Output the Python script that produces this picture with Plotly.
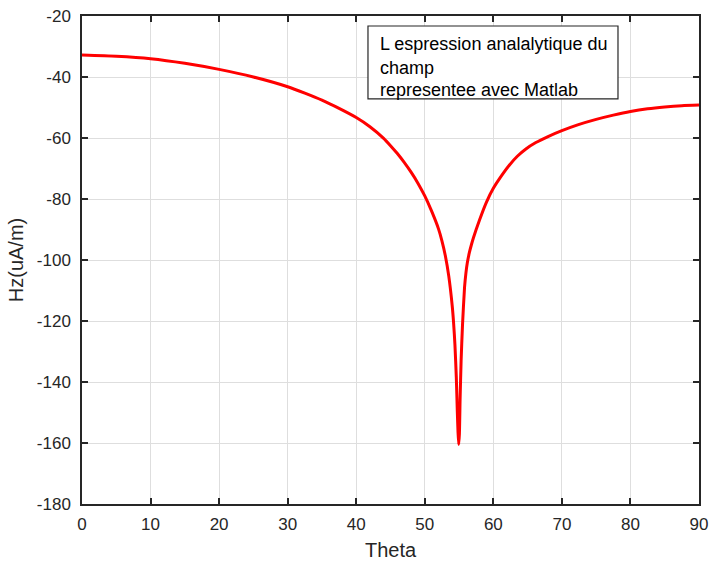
import plotly.graph_objects as go

theta = [0, 5, 10, 15, 20, 25, 30, 32.5, 35, 37.5, 40, 42, 44, 45, 46, 47, 48, 49, 50, 51,
         52, 52.5, 53, 53.5, 54, 54.2, 54.4, 54.6, 54.75, 54.85, 54.95, 55.05, 55.15,
         55.3, 55.5, 55.8, 56.0, 56.2, 56.5, 56.8, 57.1, 58, 59, 60, 61, 62.3, 63.5, 64.75,
         66.2, 67.9, 70, 72.3, 75, 77.5, 80, 82.5, 85, 87.5, 90]
hz = [-32.8, -33.2, -34.0, -35.5, -37.5, -40.0, -43.2, -45.3, -47.6, -50.3, -53.3, -56.3,
      -60.1, -62.5, -65.1, -68.0, -71.2, -74.8, -79.0, -84.0, -89.8, -93.7, -98.6,
      -105.3, -115.0, -120.5, -127.8, -138.5, -150.0, -156.5, -160.5, -157.0, -146.0,
      -133.0, -121.5, -109.0, -104.3, -101.0, -97.6, -95.0, -92.7, -86.8, -81.0, -76.5,
      -73.0, -69.0, -66.0, -63.6, -61.5, -59.6, -57.6, -55.7, -53.9, -52.5, -51.3,
      -50.4, -49.8, -49.4, -49.2]

xticks = [0, 10, 20, 30, 40, 50, 60, 70, 80, 90]
yticks = [-20, -40, -60, -80, -100, -120, -140, -160, -180]
box_lines = ["L espression analalytique du", "champ", "representee avec Matlab"]

FONT = "Liberation Sans, Arial"
fig = go.Figure()
fig.add_trace(go.Scatter(x=theta, y=hz, mode="lines",
                         line=dict(color="#ff0000", width=3, shape="spline", smoothing=0.6),
                         showlegend=False))

axis_common = dict(showline=True, linecolor="#262626", linewidth=1.5, mirror="ticks",
                   ticks="inside", ticklen=6, tickwidth=1.5, tickcolor="#262626",
                   showgrid=True, gridcolor="#dedede", gridwidth=1, zeroline=False,
                   automargin=False,
                   tickfont=dict(family=FONT, size=17, color="#262626"))

fig.update_xaxes(range=[0, 90], tickvals=xticks, ticktext=[str(v) for v in xticks],
                 ticklabelstandoff=4,
                 title=dict(text="Theta", font=dict(family=FONT, size=20, color="#262626"),
                            standoff=10),
                 **axis_common)
fig.update_yaxes(range=[-180, -20], tickvals=yticks, ticktext=[str(v) for v in yticks],
                 ticklabelstandoff=6,
                 title=dict(text="Hz(uA/m)", font=dict(family=FONT, size=20, color="#262626"),
                            standoff=8),
                 **axis_common)

fig.add_shape(type="rect", xref="paper", yref="paper", x0=0.4635, x1=0.8687,
              y0=0.830, y1=0.9795, line=dict(color="#262626", width=1.2),
              fillcolor="white", layer="above")
ys = [0.942, 0.893, 0.848]
for t, yv in zip(box_lines, ys):
    fig.add_annotation(text=t, xref="paper", yref="paper", x=0.479, y=yv,
                       xanchor="left", yanchor="middle", showarrow=False,
                       font=dict(family=FONT, size=18, color="#000000"))

fig.update_layout(width=712, height=565, plot_bgcolor="white", paper_bgcolor="white",
                  margin=dict(l=82, r=13, t=16, b=61), showlegend=False)

fig.write_html("out.html", config={"displayModeBar": False},
               post_script="document.body.style.margin='0';document.body.style.overflow='hidden';")
